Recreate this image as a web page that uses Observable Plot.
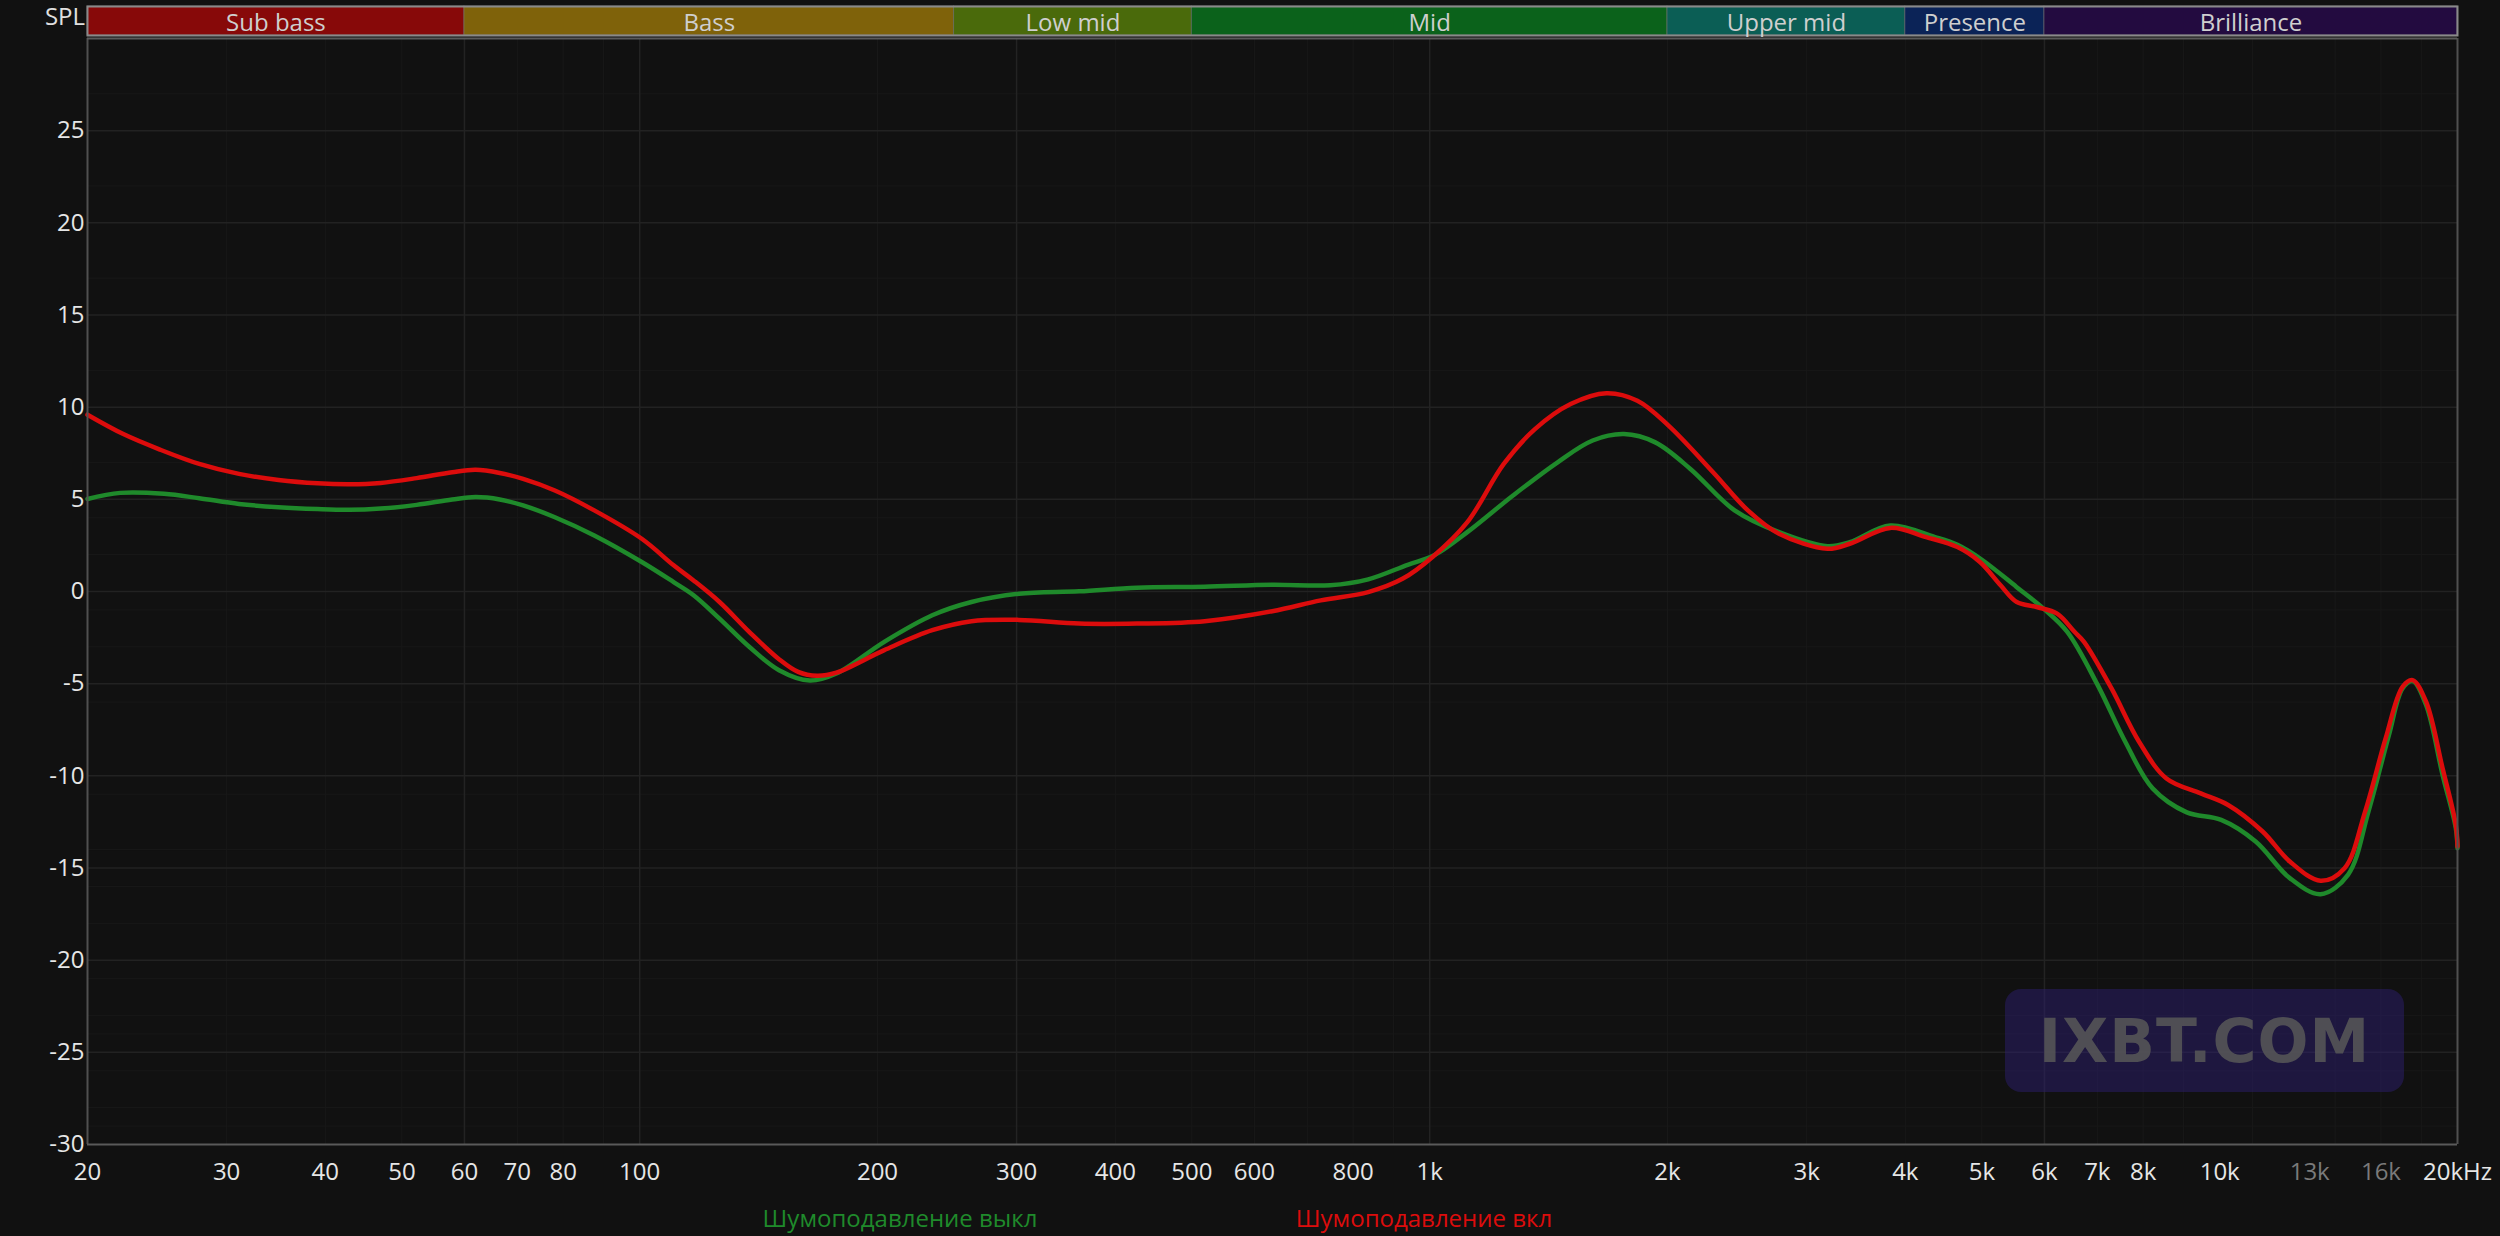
<!DOCTYPE html>
<html>
<head>
<meta charset="utf-8">
<script src="https://cdn.jsdelivr.net/npm/d3@7"></script>
<script src="https://cdn.jsdelivr.net/npm/@observablehq/plot@0.6"></script>
<style>
  html, body { margin: 0; padding: 0; background: #111111; }
  #wrap { position: relative; width: 2500px; height: 1236px; overflow: hidden; background: #111111; font-family: "Open Sans", "Noto Sans", sans-serif; }
  #wrap svg { position: absolute; left: 0; top: 0; }
  .spl { position: absolute; right: calc(2500px - 85px); top: 3px; font-size: 24px; color: #e0e0e0; line-height: 26px; }
  .legend { position: absolute; top: 1217px; transform: translate(-50%, -50%); font-size: 24px; white-space: nowrap; }
  .wm { position: absolute; left: 2005px; top: 989px; width: 399px; height: 103px; border-radius: 16px;
        background: rgba(44, 30, 110, 0.5); display: flex; align-items: center; justify-content: center;
        font-family: "DejaVu Sans", sans-serif; font-weight: bold; font-size: 60px; color: rgba(88, 88, 88, 0.85); letter-spacing: 1px; }
</style>
</head>
<body>
<div id="wrap"></div>
<script>
// ---- Data ----
const offHz = [20,22,25,27.7,31.1,34.9,39.1,42.9,47,52.2,57.9,62,66.5,71.2,78.1,87.6,100.6,110.4,117,126.2,137.6,150.1,164.2,177.4,204,234.6,263,302,360,426,519,632,748,836,938,1013,1116,1275,1452,1608,1762,1930,2138,2432,2768,3188,3402,3828,4362,4656,4990,5530,5985,6413,7008,7594,8224,9086,10044,11104,12268,13420,14534,15428,16376,17040,17550,18250,19150,19900,20000];
const offDb = [5.02,5.35,5.3,5.06,4.75,4.57,4.47,4.43,4.5,4.7,4.99,5.12,4.99,4.67,4.03,3.04,1.6,0.51,-0.2,-1.47,-3.0,-4.27,-4.83,-4.45,-2.73,-1.29,-0.57,-0.12,0.01,0.21,0.26,0.37,0.34,0.66,1.45,1.96,3.22,5.21,7.01,8.19,8.54,8.09,6.65,4.4,3.22,2.46,2.68,3.58,2.95,2.53,1.75,0.25,-0.93,-2.19,-5.08,-8.15,-10.68,-11.98,-12.39,-13.56,-15.55,-16.42,-15.37,-11.94,-7.79,-5.26,-4.86,-6.16,-9.95,-12.84,-13.93];

const onHz = [20,22.2,24.7,27.7,31.1,34.9,39.1,42.9,47,52.2,57.9,62,66.5,71.2,78.1,87.6,100.6,110.4,117,126.2,137.6,150.1,158.7,167.7,177.4,204,234.6,263,302,360,426,519,632,728,836,925,1010,1116,1241,1359,1508,1674,1832,2006,2284,2528,2768,3188,3402,3828,4250,4656,4972,5280,5535,5866,6226,6554,6734,7296,7906,8562,9464,10248,11332,12268,13420,14390,15278,16220,17040,17550,18250,19150,19900,20000];
const onDb = [9.59,8.54,7.7,6.92,6.38,6.05,5.87,5.82,5.89,6.15,6.47,6.6,6.43,6.11,5.48,4.4,2.86,1.42,0.6,-0.57,-2.19,-3.67,-4.36,-4.57,-4.4,-3.18,-2.1,-1.61,-1.54,-1.74,-1.74,-1.61,-1.07,-0.48,-0.03,0.7,1.9,3.76,6.92,8.81,10.17,10.76,10.35,9.0,6.47,4.4,3.13,2.32,2.59,3.45,2.95,2.41,1.6,0.34,-0.57,-0.84,-1.2,-2.2,-2.73,-5.26,-8.15,-10.14,-10.95,-11.58,-13.02,-14.65,-15.69,-15.01,-11.94,-7.97,-5.17,-4.81,-5.98,-9.59,-12.66,-13.83];

const seriesNames = ["Шумоподавление выкл", "Шумоподавление вкл"];
const seriesColors = ["#1f8a2b", "#dc0c0c"];

const bandNames = ["Sub bass", "Bass", "Low mid", "Mid", "Upper mid", "Presence", "Brilliance"];
const bandLo = [20, 60, 250, 500, 2000, 4000, 6000];
const bandHi = [60, 250, 500, 2000, 4000, 6000, 20000];
const bandColors = ["#870909", "#7f620a", "#4a6a0b", "#0b621b", "#0b5e55", "#0b2357", "#230b40"];

const xTickValues = [20,30,40,50,60,70,80,100,200,300,400,500,600,800,1000,2000,3000,4000,5000,6000,7000,8000,10000,20000];
const xTickLabels = ["20","30","40","50","60","70","80","100","200","300","400","500","600","800","1k","2k","3k","4k","5k","6k","7k","8k","10k","20kHz"];
const xDimTickValues = [13000, 16000];
const xDimTickLabels = ["13k", "16k"];
const yTickValues = [-30,-25,-20,-15,-10,-5,0,5,10,15,20,25];

const majorDb = [-25,-20,-15,-10,-5,0,5,10,15,20,25];
const minorDb = [27,22,17,12,7,4,2,-1,-3,-6,-11,-14,-16,-18,-21,-23,-24,-26,-28,-29];
const brightHz = [60,100,300,1000,6000];
const minorHz = [30,40,50,70,80,90,200,400,500,600,700,800,900,2000,3000,4000,5000,7000,8000,9000,11000,14000,16000,18000];

// ---- Build tables ----
const offData = offHz.map((f, i) => ({f, db: offDb[i]}));
const onData = onHz.map((f, i) => ({f, db: onDb[i]}));
const bands = bandNames.map((name, i) => ({name, lo: bandLo[i], hi: bandHi[i], color: bandColors[i]}));

const FONT = '"Open Sans", "Noto Sans", sans-serif';
const W = 2500, H = 1236, ML = 87, MR = 43;

const main = Plot.plot({
  width: W, height: H,
  marginLeft: ML, marginRight: MR, marginTop: 38, marginBottom: 92,
  style: {background: "transparent", color: "#e6e6e6", fontFamily: FONT, fontSize: "24px"},
  x: {type: "log", domain: [20, 20000], label: null},
  y: {domain: [-30, 30], label: null},
  marks: [
    Plot.ruleY(minorDb, {stroke: "#181818", strokeWidth: 1}),
    Plot.ruleX(minorHz, {stroke: "#181818", strokeWidth: 1}),
    Plot.ruleY(majorDb, {stroke: "#222222", strokeWidth: 1.5}),
    Plot.ruleX(brightHz, {stroke: "#232323", strokeWidth: 1.5}),
    Plot.line(offData, {x: "f", y: "db", stroke: seriesColors[0], strokeWidth: 4.5, curve: "catmull-rom", strokeLinejoin: "round"}),
    Plot.line(onData, {x: "f", y: "db", stroke: seriesColors[1], strokeWidth: 4.5, curve: "catmull-rom", strokeLinejoin: "round"}),
    Plot.ruleX([20, 20000], {stroke: "#505050", strokeWidth: 2}),
    Plot.ruleY([-30, 30], {stroke: "#5a5a5a", strokeWidth: 2}),
    Plot.axisY(yTickValues, {tickSize: 0, tickPadding: 3, tickFormat: d => String(d), fill: "#e6e6e6", fontSize: 24, label: null}),
    Plot.axisX(xTickValues, {tickSize: 0, tickPadding: 18, tickFormat: d => xTickLabels[xTickValues.indexOf(d)], fill: "#e6e6e6", fontSize: 24, label: null}),
    Plot.axisX(xDimTickValues, {tickSize: 0, tickPadding: 18, tickFormat: d => xDimTickLabels[xDimTickValues.indexOf(d)], fill: "#7a7a7a", fontSize: 24, label: null})
  ]
});

const bandPlot = Plot.plot({
  width: W, height: 38,
  marginLeft: ML, marginRight: MR, marginTop: 6, marginBottom: 3,
  style: {background: "transparent", color: "#cfcfcf", fontFamily: FONT, fontSize: "24px"},
  x: {type: "log", domain: [20, 20000], axis: null},
  marks: [
    Plot.rect(bands, {x1: "lo", x2: "hi", fill: "color", stroke: "#777777", strokeWidth: 1, strokeOpacity: 0.6}),
    Plot.frame({stroke: "#8a8a8a", strokeWidth: 2}),
    Plot.text(bands, {x: d => Math.sqrt(d.lo * d.hi), text: "name", frameAnchor: "middle", fill: "#cfcfcf", fontSize: 24, dy: 2})
  ]
});

const wrap = document.getElementById("wrap");
wrap.appendChild(main);
wrap.appendChild(bandPlot);

const spl = document.createElement("div");
spl.className = "spl";
spl.textContent = "SPL";
wrap.appendChild(spl);

const wm = document.createElement("div");
wm.className = "wm";
wm.textContent = "IXBT.COM";
wrap.appendChild(wm);

const legendX = [900, 1424];
seriesNames.forEach((name, i) => {
  const d = document.createElement("div");
  d.className = "legend";
  d.style.left = legendX[i] + "px";
  d.style.color = seriesColors[i];
  d.textContent = name;
  wrap.appendChild(d);
});
</script>
</body>
</html>
